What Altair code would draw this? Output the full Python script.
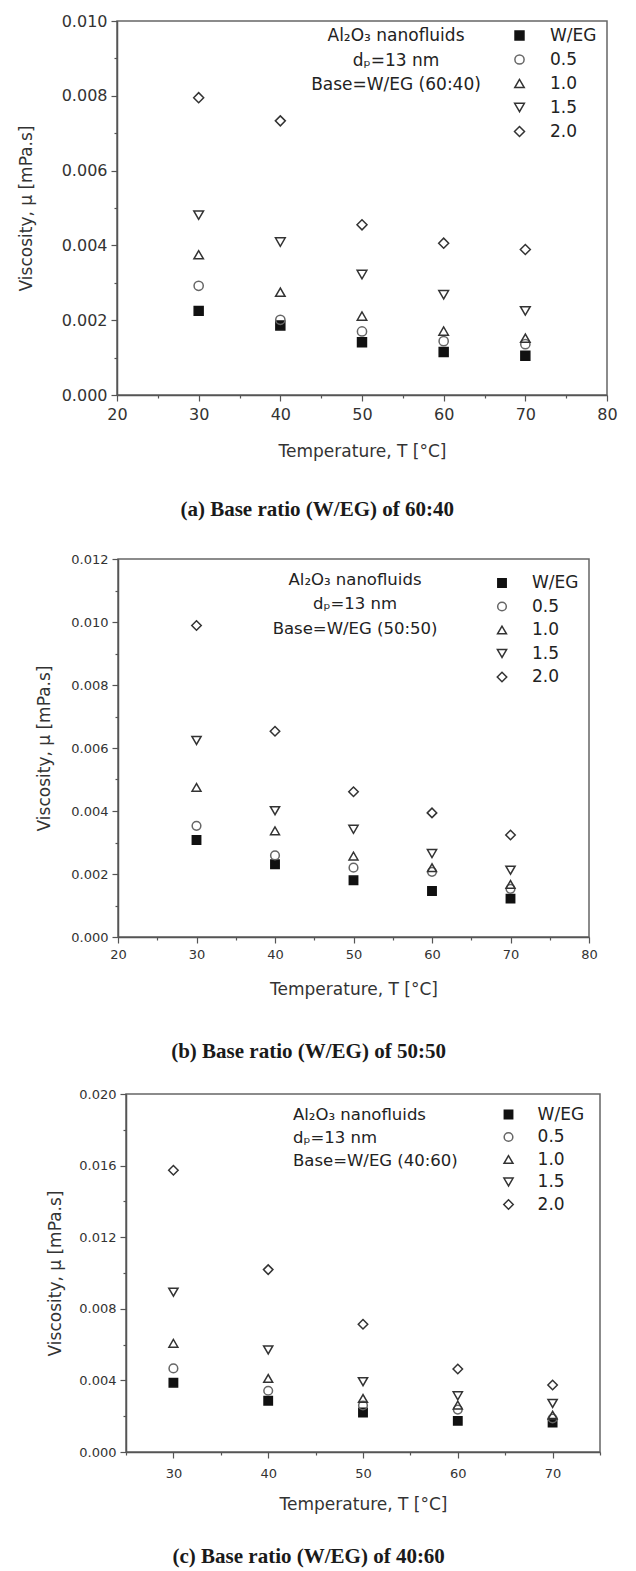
import altair as alt
import pandas as pd

T = [30, 40, 50, 60, 70]
SERIES = ["W/EG", "0.5", "1.0", "1.5", "2.0"]

# (a) W/EG 60:40
A_WEG = [0.00225, 0.00186, 0.00141, 0.00115, 0.00105]
A_05 = [0.00292, 0.00201, 0.00170, 0.00144, 0.00136]
A_10 = [0.00375, 0.00275, 0.00211, 0.00171, 0.00152]
A_15 = [0.00481, 0.00409, 0.00322, 0.00268, 0.00225]
A_20 = [0.00795, 0.00733, 0.00455, 0.00406, 0.00389]

# (b) W/EG 50:50
B_WEG = [0.00308, 0.00231, 0.00180, 0.00146, 0.00122]
B_05 = [0.00353, 0.00259, 0.00220, 0.00207, 0.00153]
B_10 = [0.00475, 0.00337, 0.00257, 0.00220, 0.00167]
B_15 = [0.00624, 0.00401, 0.00342, 0.00265, 0.00212]
B_20 = [0.00989, 0.00653, 0.00461, 0.00394, 0.00324]

# (c) W/EG 40:60
C_WEG = [0.00387, 0.00286, 0.00221, 0.00174, 0.00164]
C_05 = [0.00467, 0.00342, 0.00260, 0.00237, 0.00187]
C_10 = [0.00607, 0.00411, 0.00299, 0.00262, 0.00206]
C_15 = [0.00893, 0.00570, 0.00393, 0.00314, 0.00271]
C_20 = [0.01574, 0.01019, 0.00714, 0.00464, 0.00374]

SHAPES = ["square", "circle", "triangle-up", "triangle-down", "diamond"]
FILLS = ["#111111", "transparent", "transparent", "transparent", "transparent"]
STROKES = ["#111111", "#666666", "#333333", "#333333", "#333333"]

SANS = "DejaVu Sans"
SERIF = "Liberation Serif"
YTITLE = "Viscosity, \u03bc [mPa.s]"
XTITLE = "Temperature, T [\u00b0C]"


def long_df(cols):
    rows = []
    for s, vals in zip(SERIES, cols):
        for t, v in zip(T, vals):
            rows.append({"T": t, "series": s, "mu": v})
    return pd.DataFrame(rows)


def panel(df, cfg):
    xmaj = cfg["xmaj"]
    ymaj = cfg["ymaj"]
    x_axis = alt.Axis(
        values=cfg["xvals"], title=XTITLE, labelFontSize=cfg["lab"], titleFontSize=17,
        labelExpr=f"datum.value % {xmaj} == 0 ? datum.label : ''",
        tickSize={"condition": {"test": f"datum.value % {xmaj} != 0", "value": 3}, "value": 6},
        labelPadding=cfg["xlp"], titlePadding=cfg["xtp"], labelFlush=False, labelOverlap=False,
    )
    y_axis = alt.Axis(
        values=cfg["yvals"], title=YTITLE, format=".3f", labelFontSize=cfg["lab"], titleFontSize=17,
        labelExpr=f"round(datum.value * 1000) % {ymaj} == 0 ? datum.label : ''",
        tickSize={"condition": {"test": f"round(datum.value * 1000) % {ymaj} != 0", "value": 3}, "value": 6},
        labelPadding=4, titlePadding=cfg["ytp"], labelFlush=False, labelOverlap=False,
    )
    leg = alt.Legend(
        title=None, orient="none", legendX=cfg["lx"], legendY=cfg["ly"],
        labelFont=SANS, labelFontSize=17, labelColor="#222", rowPadding=cfg["rp"],
        labelOffset=cfg["lo"], symbolStrokeWidth=1.5, padding=0,
    )
    pts = alt.Chart(df).mark_point(strokeWidth=1.5, opacity=1, fillOpacity=1).encode(
        x=alt.X("T:Q", scale=alt.Scale(domain=cfg["xdom"], nice=False, zero=False), axis=x_axis),
        y=alt.Y("mu:Q", scale=alt.Scale(domain=cfg["ydom"], nice=False), axis=y_axis),
        shape=alt.Shape("series:N", scale=alt.Scale(domain=SERIES, range=SHAPES), legend=leg),
        fill=alt.Fill("series:N", scale=alt.Scale(domain=SERIES, range=FILLS), legend=leg),
        stroke=alt.Stroke("series:N", scale=alt.Scale(domain=SERIES, range=STROKES), legend=leg),
        size=alt.Size("series:N", scale=alt.Scale(domain=SERIES, range=cfg["sizes"]), legend=leg),
    )
    layers = [pts]
    for line, ty in zip(cfg["ann"], cfg["ann_y"]):
        layers.append(
            alt.Chart(alt.Data(values=[{}])).mark_text(
                text=line, font=SANS, fontSize=cfg["annfs"], align=cfg["ann_align"],
                baseline="middle", color="#222",
            ).encode(x=alt.value(cfg["ann_x"]), y=alt.value(ty))
        )
    if cfg["top_pad"] > 0:
        # invisible element that only widens the panel's top margin
        layers.append(
            alt.Chart(alt.Data(values=[{}])).mark_text(
                text=".", fontSize=6, opacity=0, baseline="top",
            ).encode(x=alt.value(0), y=alt.value(-cfg["top_pad"]))
        )
    chart = alt.layer(*layers).properties(
        width=cfg["w"], height=cfg["h"],
        title=alt.TitleParams(cfg["caption"], orient="bottom", anchor="middle", frame="bounds",
                              font=SERIF, fontSize=21, fontWeight="bold", color="#1a1a1a",
                              offset=cfg["capoff"], dx=cfg["capdx"]),
    )
    spacer = alt.Chart(alt.Data(values=[{}])).mark_point(opacity=0).encode(
        x=alt.value(0), y=alt.value(0)
    ).properties(width=cfg["spacer"], height=10, view=alt.ViewBackground(stroke="transparent"))
    return alt.hconcat(spacer, chart, spacing=0)


cfg_a = dict(
    xvals=list(range(20, 81, 5)), xmaj=10, xdom=[20, 80],
    yvals=[i / 1000 for i in range(0, 11)], ymaj=2, ydom=[0, 0.010],
    lab=16, xlp=5, xtp=21, ytp=26, w=490, h=374,
    lx=499, ly=6, rp=6, lo=22, sizes=[80, 100, 120, 120, 150],
    ann=["Al\u2082O\u2083 nanofluids", "d\u209a=13 nm", "Base=W/EG (60:40)"],
    ann_y=[14.5, 39.5, 63.5], ann_x=279, ann_align="center", annfs=17,
    caption="(a) Base ratio (W/EG) of 60:40", capoff=40, capdx=0, spacer=1, top_pad=0,
)
cfg_b = dict(
    xvals=list(range(20, 81, 5)), xmaj=10, xdom=[20, 80],
    yvals=[i / 1000 for i in range(0, 13)], ymaj=2, ydom=[0, 0.012],
    lab=13, xlp=5.5, xtp=20, ytp=17, w=471, h=378,
    lx=481.5, ly=15.5, rp=5.5, lo=21.5, sizes=[70, 90, 110, 110, 140],
    ann=["Al\u2082O\u2083 nanofluids", "d\u209a=13 nm", "Base=W/EG (50:50)"],
    ann_y=[21, 45, 70], ann_x=237, ann_align="center", annfs=16.5,
    caption="(b) Base ratio (W/EG) of 50:50", capoff=43, capdx=-8, spacer=22, top_pad=12.5,
)
cfg_c = dict(
    xvals=list(range(25, 76, 5)), xmaj=10, xdom=[25, 75],
    yvals=[i / 1000 for i in range(0, 21, 2)], ymaj=4, ydom=[0, 0.020],
    lab=13, xlp=9, xtp=16, ytp=14, w=474, h=358,
    lx=488, ly=12, rp=4.5, lo=20.6, sizes=[70, 90, 110, 110, 140],
    ann=["Al\u2082O\u2083 nanofluids", "d\u209a=13 nm", "Base=W/EG (40:60)"],
    ann_y=[21, 44, 67], ann_x=167, ann_align="left", annfs=16.5,
    caption="(c) Base ratio (W/EG) of 40:60", capoff=34, capdx=-15, spacer=33, top_pad=0,
)

row_a = panel(long_df([A_WEG, A_05, A_10, A_15, A_20]), cfg_a)
row_b = panel(long_df([B_WEG, B_05, B_10, B_15, B_20]), cfg_b)
row_c = panel(long_df([C_WEG, C_05, C_10, C_15, C_20]), cfg_c)

chart = alt.vconcat(row_a, row_b, row_c, spacing=24).resolve_scale(
    shape="independent", fill="independent", stroke="independent", size="independent"
).properties(
    padding={"left": 0, "top": 4, "right": 5, "bottom": 0}
).configure_view(
    stroke="#666666", strokeWidth=1.5
).configure_axis(
    domainColor="#555555", tickColor="#555555", domainWidth=1.5, tickWidth=1.2,
    labelFont=SANS, titleFont=SANS, labelColor="#333333", titleColor="#333333",
    titleFontWeight="normal", grid=False,
)

chart.save("out.html", embed_options={"renderer": "svg", "actions": False})
